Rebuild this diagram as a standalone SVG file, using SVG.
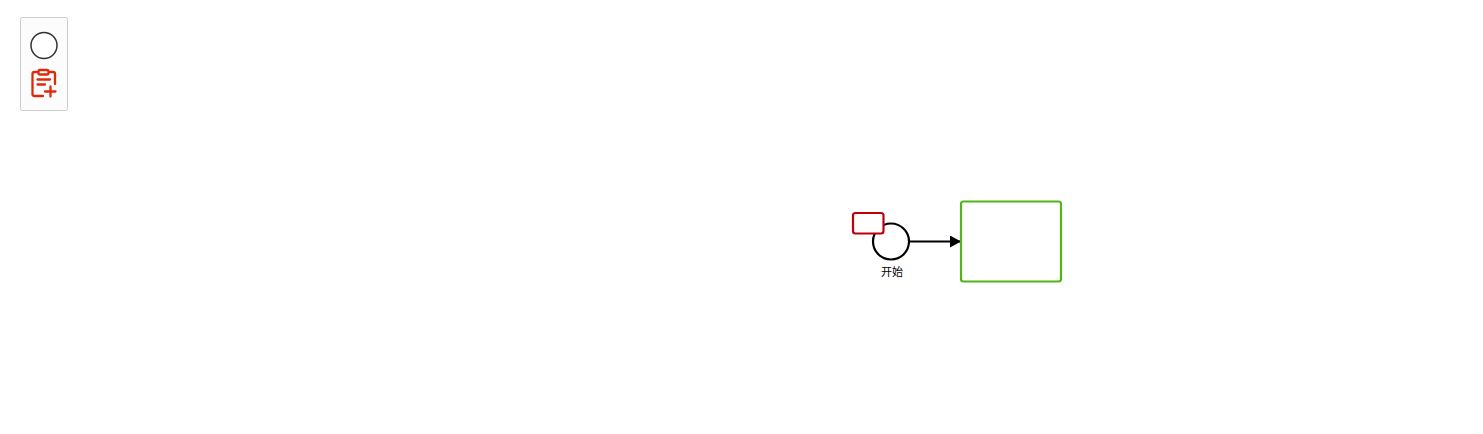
<svg xmlns="http://www.w3.org/2000/svg" width="1483" height="434" viewBox="0 0 1483 434">
<style>
text{font-family:"Noto Sans CJK SC","Liberation Sans",sans-serif;font-size:11px;fill:#000}
.conn{fill:none;stroke:#000;stroke-width:2}
.icon{fill:none;stroke:#dd2a0c;stroke-width:2.300;stroke-linecap:round;stroke-linejoin:round}
</style>
<defs><marker id="arrow" markerUnits="userSpaceOnUse" markerWidth="11" markerHeight="12" refX="11" refY="6" orient="auto"><path d="M0 0L11 6L0 12Z" fill="#000"/></marker></defs>
<rect width="1483" height="434" fill="#fff"/>
<g id="palette">
<rect x="20.500" y="17.500" width="47" height="93" rx="2" fill="#fcfcfc" stroke="#ccc"/>
<circle cx="44" cy="45.500" r="13" fill="#fff" stroke="#333" stroke-width="1.500"/>
<g class="icon">
<path d="M38 72H34.500Q32.500 72 32.500 74V94Q32.500 96 34.500 96H43"/>
<path d="M50 72H53Q55 72 55 74V84"/>
<rect x="38.500" y="70" width="10" height="4.500" rx="1.500"/>
<path d="M37.500 79.500H50M37.500 84.500H45M45 91.500H55.500M50.500 86.500V96.500"/>
</g>
</g>
<g id="connectors">
<path class="conn" d="M910 241.500H961" marker-end="url(#arrow)"/>
</g>
<g id="start-event">
<circle cx="891" cy="241.500" r="18" fill="#fff" stroke="#000" stroke-width="2.200"/>
<text x="892" y="275.500" text-anchor="middle">开始</text>
</g>
<g id="label-box">
<rect x="853" y="213" width="30.500" height="20.500" rx="2.500" fill="#fff" stroke="#bf000a" stroke-width="2.200"/>
</g>
<g id="task">
<rect x="961" y="201.500" width="100" height="80" rx="2.500" fill="#fff" stroke="#52b415" stroke-width="2.200"/>
</g>
</svg>
